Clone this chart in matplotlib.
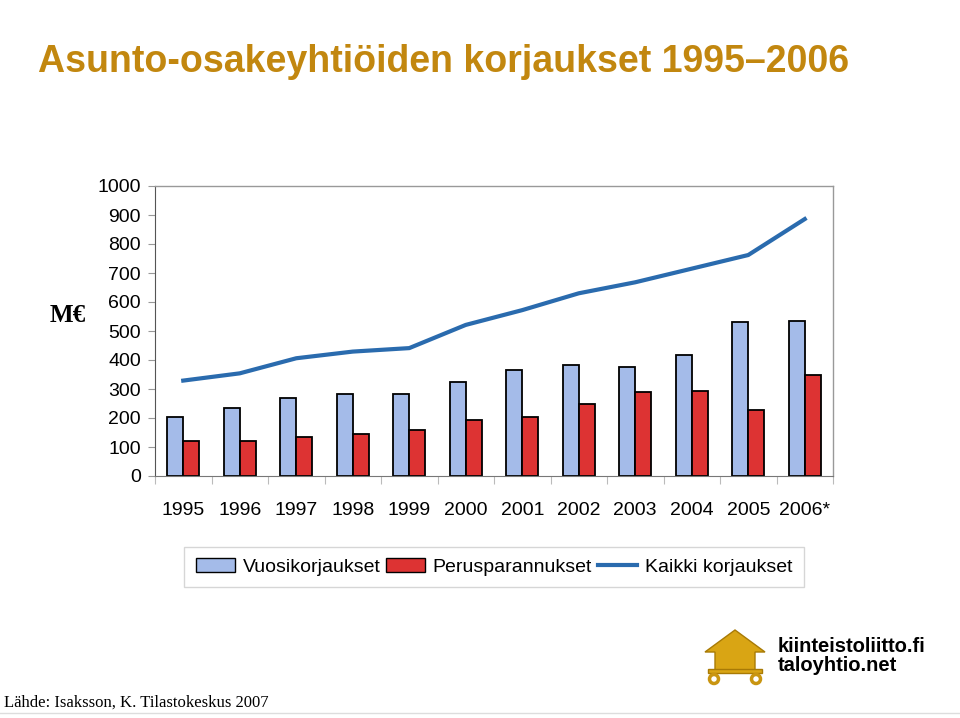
import numpy as np
import matplotlib
matplotlib.use('Agg')
import matplotlib.pyplot as plt
from matplotlib.patches import Polygon, Circle, Rectangle
from matplotlib.lines import Line2D

years = ['1995', '1996', '1997', '1998', '1999', '2000', '2001', '2002', '2003', '2004', '2005', '2006*']
vuosi = [204, 234, 269, 283, 283, 324, 366, 383, 376, 418, 530, 536]
perus = [122, 122, 133, 145, 159, 193, 205, 247, 289, 294, 229, 347]
kaikki = [329, 354, 406, 429, 441, 521, 572, 630, 668, 715, 762, 886]
yticks = [0, 100, 200, 300, 400, 500, 600, 700, 800, 900, 1000]

blue_bar = '#A4BBE9'
red_bar = '#DD3333'
line_col = '#2A6BAE'
gold = '#C2870F'

plt.rcParams['font.family'] = ['Liberation Sans', 'DejaVu Sans']

fig = plt.figure(figsize=(9.6, 7.18), dpi=100)
ax = fig.add_axes([155 / 960, 1 - 476 / 718, (833 - 155) / 960, (476 - 186) / 718])

x = np.arange(len(years))
w = 0.28
ax.bar(x - w / 2, vuosi, w, color=blue_bar, edgecolor='black', linewidth=1.3, zorder=2)
ax.bar(x + w / 2, perus, w, color=red_bar, edgecolor='black', linewidth=1.3, zorder=2)
ax.plot(x, kaikki, color=line_col, linewidth=3, zorder=3)

ax.set_xlim(-0.5, len(years) - 0.5)
ax.set_ylim(0, 1000)
ax.set_yticks(yticks)
ax.set_yticklabels([str(v) for v in yticks], fontsize=14)
ax.set_xticks(x)
ax.set_xticklabels(years, fontsize=14)
ax.tick_params(axis='x', length=0, pad=19)
ax.set_xticks(np.arange(-0.5, len(years), 1), minor=True)
ax.tick_params(axis='x', which='minor', length=6, color='#BBBBBB', width=0.8)
ax.tick_params(axis='y', length=5, color='#999999', width=0.8, pad=5)
for side in ['top', 'right']:
    ax.spines[side].set_color('#999999')
    ax.spines[side].set_linewidth(1)
ax.spines['left'].set_color('#555555')
ax.spines['bottom'].set_color('#777777')

# legend
handles = [Rectangle((0, 0), 1, 1, facecolor=blue_bar, edgecolor='black', linewidth=1),
           Rectangle((0, 0), 1, 1, facecolor=red_bar, edgecolor='black', linewidth=1),
           Line2D([0], [0], color=line_col, linewidth=3)]
leg = fig.legend(handles, ['Vuosikorjaukset', 'Perusparannukset', 'Kaikki korjaukset'],
                 loc='center', bbox_to_anchor=(494 / 960, 1 - 567 / 718), ncol=3,
                 fontsize=14, frameon=True, fancybox=False,
                 handlelength=2.0, handleheight=0.7, handletextpad=0.4,
                 columnspacing=0.3, borderpad=0.6)
leg.get_frame().set_edgecolor('#CCCCCC')
leg.get_frame().set_linewidth(1)

# texts
fig.text(38 / 960, 1 - 62 / 718, 'Asunto-osakeyhtiöiden korjaukset 1995\u20132006',
         color=gold, fontsize=27, fontweight='bold', va='center', ha='left')
fig.text(50 / 960, 1 - 315 / 718, 'M€', family=['Liberation Serif', 'DejaVu Serif'],
         fontsize=18, fontweight='bold', va='center', ha='left')
fig.text(4 / 960, 1 - 703 / 718, 'Lähde: Isaksson, K. Tilastokeskus 2007',
         family=['Liberation Serif', 'DejaVu Serif'], fontsize=12, va='center', ha='left')
fig.add_artist(Line2D([0, 1], [1 - 713 / 718, 1 - 713 / 718], color='#DDDDDD', linewidth=1))

# logo
lax = fig.add_axes([700 / 960, 1 - 690 / 718, 70 / 960, 65 / 718])
lax.set_xlim(0, 70)
lax.set_ylim(0, 65)
lax.axis('off')
lax.add_patch(Polygon([[5, 38], [35, 60], [65, 38], [55, 38], [55, 20], [15, 20], [15, 38]],
                      closed=True, facecolor='#D9A514', edgecolor='#A87A05', linewidth=1))
lax.add_patch(Rectangle((8, 17), 54, 4, facecolor='#D9A514', edgecolor='#A87A05'))
lax.add_patch(Circle((14, 11), 4.5, facecolor='white', edgecolor='#C99510', linewidth=2.5))
lax.add_patch(Circle((56, 11), 4.5, facecolor='white', edgecolor='#C99510', linewidth=2.5))
fig.text(778 / 960, 1 - 656 / 718, 'kiinteistoliitto.fi\ntaloyhtio.net', fontsize=14.5,
         fontweight='bold', va='center', ha='left', linespacing=0.95)

fig.savefig('out.png', dpi=100)
